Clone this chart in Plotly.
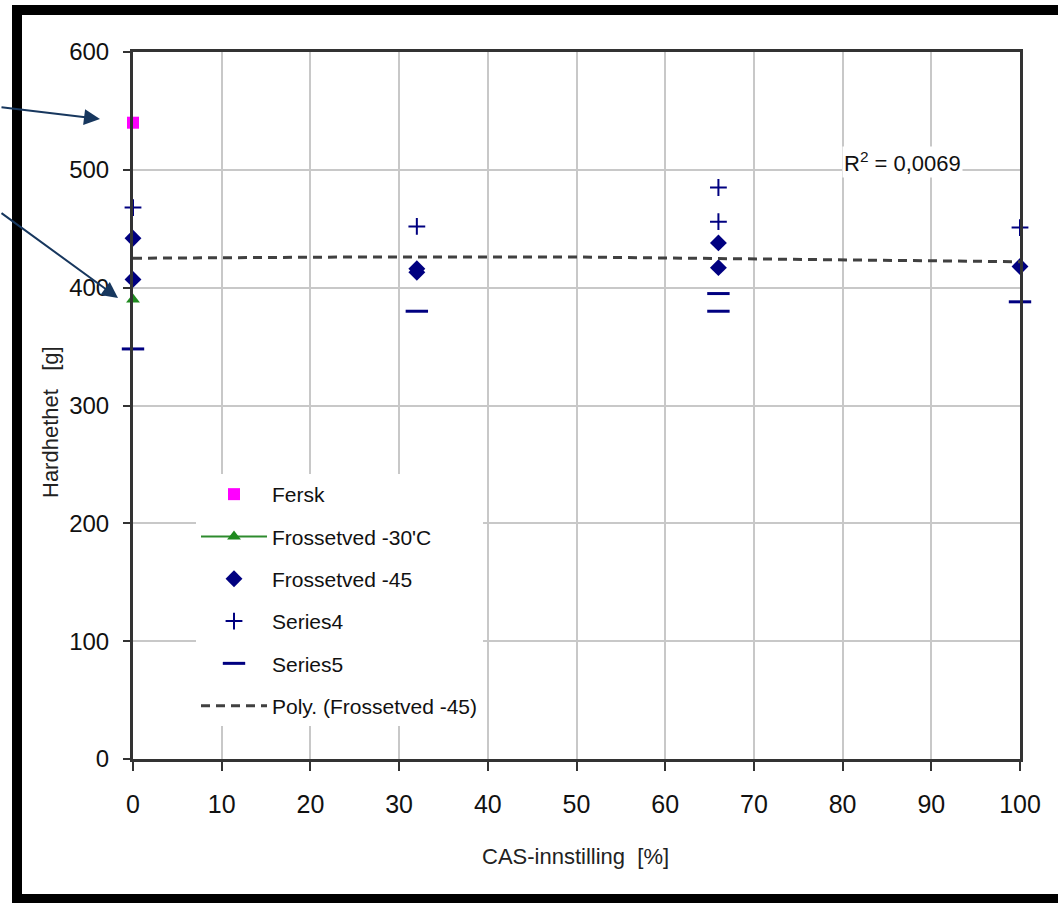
import plotly.graph_objects as go

# ---- data ----
fersk_x = [0]
fersk_y = [540]

fr30_x = [0]
fr30_y = [390]

fr45_x = [0, 0, 32, 32, 66, 66, 100]
fr45_y = [442, 407, 416, 413, 438, 417, 418]

s4_x = [0, 32, 66, 66, 100]
s4_y = [468, 452, 485, 456, 451]

s5_x = [0, 32, 66, 66, 100]
s5_y = [348, 380, 395, 380, 388]

trend_x = [0, 25, 50, 75, 100]
trend_y = [425, 426, 426, 424, 422]

x_ticks = [0, 10, 20, 30, 40, 50, 60, 70, 80, 90, 100]
y_ticks = [0, 100, 200, 300, 400, 500, 600]

FONT = "Liberation Sans, Arial, sans-serif"
NAVY = "#000080"

fig = go.Figure()
fig.add_trace(go.Scatter(x=fersk_x, y=fersk_y, mode="markers", name="Fersk",
                         legendgroup="a", cliponaxis=False,
                         marker=dict(symbol="square", size=12, color="#ff00ff")))
fig.add_trace(go.Scatter(x=fr30_x, y=fr30_y, mode="lines+markers", name="Frossetved -30'C",
                         legendgroup="b", cliponaxis=False,
                         line=dict(color="#2e8b2e", width=2),
                         marker=dict(symbol="triangle-up", size=12, color="#1f8a1f")))
fig.add_trace(go.Scatter(x=fr45_x, y=fr45_y, mode="markers", name="Frossetved -45",
                         legendgroup="c", cliponaxis=False,
                         marker=dict(symbol="diamond", size=13, color=NAVY)))
fig.add_trace(go.Scatter(x=s4_x, y=s4_y, mode="markers", name="Series4",
                         legendgroup="d", cliponaxis=False,
                         marker=dict(symbol="cross-thin", size=12,
                                     line=dict(color=NAVY, width=2))))
fig.add_trace(go.Scatter(x=s5_x, y=s5_y, mode="markers", name="Series5",
                         legendgroup="e", cliponaxis=False,
                         marker=dict(symbol="line-ew", size=16,
                                     line=dict(color=NAVY, width=3))))
fig.add_trace(go.Scatter(x=trend_x, y=trend_y, mode="lines", name="Poly. (Frossetved -45)",
                         legendgroup="f",
                         line=dict(color="#404040", width=3, dash="9px,6px")))

L, R, T, B = 133, 1058 - 1020, 52, 903 - 759
PW, PH = 1058 - L - R, 903 - T - B

def px(x):
    return (x - L) / PW

def py(y):
    return (903 - B - y) / PH

fig.update_layout(
    width=1058, height=903,
    margin=dict(l=L, r=R, t=T, b=B),
    paper_bgcolor="white", plot_bgcolor="white",
    font=dict(family=FONT, size=24, color="#111"),
    showlegend=True,
    legend=dict(x=px(196), y=py(474), xanchor="left", yanchor="top",
                bgcolor="white", borderwidth=0,
                font=dict(family=FONT, size=21, color="#111"),
                traceorder="grouped", tracegroupgap=12, itemwidth=66),
    xaxis=dict(range=[0, 100], tickvals=x_ticks, ticks="outside", ticklen=9,
               tickwidth=2, tickcolor="#333",
               showgrid=True, gridcolor="#c8c8c8", gridwidth=1.5,
               showline=True, linecolor="#333", linewidth=3, mirror=True,
               zeroline=False, ticklabelstandoff=12,
               tickfont=dict(family=FONT, size=25, color="#111")),
    yaxis=dict(range=[0, 600], tickvals=y_ticks, ticks="outside", ticklen=7,
               tickwidth=2, tickcolor="#333",
               showgrid=True, gridcolor="#c8c8c8", gridwidth=1.5,
               showline=True, linecolor="#333", linewidth=3, mirror=True,
               zeroline=False, ticklabelstandoff=9,
               tickfont=dict(family=FONT, size=24, color="#111")),
    annotations=[
        dict(text="R<sup>2</sup> = 0,0069", xref="paper", yref="paper",
             x=px(902), y=py(162), xanchor="center", yanchor="middle",
             showarrow=False, bgcolor="white",
             font=dict(family=FONT, size=22, color="#111")),
        dict(text="CAS-innstilling  [%]", xref="paper", yref="paper",
             x=px(575), y=py(856), xanchor="center", yanchor="middle",
             showarrow=False,
             font=dict(family=FONT, size=22, color="#222")),
        dict(text="Hardhethet   [g]", xref="paper", yref="paper",
             x=px(50), y=py(422), xanchor="center", yanchor="middle",
             showarrow=False, textangle=-90,
             font=dict(family=FONT, size=22, color="#222")),
        dict(text="", xref="paper", yref="paper", x=px(100), y=py(119),
             ax=-100, ay=-12, showarrow=True, arrowhead=2, arrowsize=1.6,
             arrowwidth=2, arrowcolor="#17375e"),
        dict(text="", xref="paper", yref="paper", x=px(118), y=py(298),
             ax=-120, ay=-86, showarrow=True, arrowhead=2, arrowsize=1.6,
             arrowwidth=2, arrowcolor="#17375e"),
    ],
    shapes=[
        dict(type="rect", xref="paper", yref="paper",
             x0=px(17), x1=px(1070), y0=py(899), y1=py(10),
             line=dict(color="black", width=10), fillcolor="rgba(0,0,0,0)"),
    ],
)

fig.write_html("out.html")
